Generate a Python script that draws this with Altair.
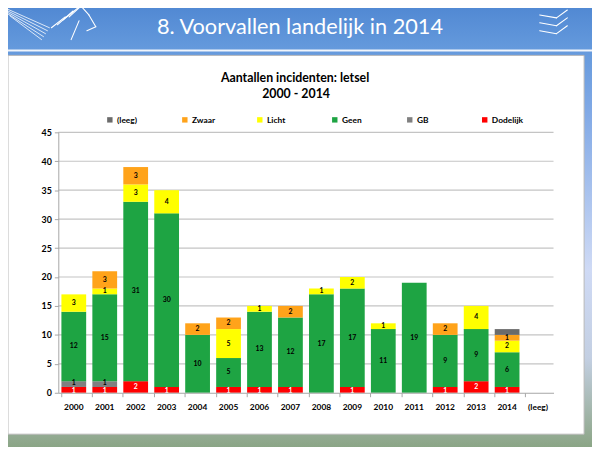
import pandas as pd
import altair as alt

# Data
years = ['2000', '2001', '2002', '2003', '2004', '2005', '2006', '2007',
         '2008', '2009', '2010', '2011', '2012', '2013', '2014', '(leeg)']
dodelijk = [1, 1, 2, 1, 0, 1, 1, 1, 0, 1, 0, 0, 1, 2, 1, 0]
gb = [1, 1, 0, 0, 0, 0, 0, 0, 0, 0, 0, 0, 0, 0, 0, 0]
geen = [12, 15, 31, 30, 10, 5, 13, 12, 17, 17, 11, 19, 9, 9, 6, 0]
licht = [3, 1, 3, 4, 0, 5, 1, 0, 1, 2, 1, 0, 0, 4, 2, 0]
zwaar = [0, 3, 3, 0, 2, 2, 0, 2, 0, 0, 0, 0, 2, 0, 1, 0]
leeg = [0, 0, 0, 0, 0, 0, 0, 0, 0, 0, 0, 0, 0, 0, 1, 0]

stack_order = ['Dodelijk', 'GB', 'Geen', 'Licht', 'Zwaar', '(leeg)']
series = [dodelijk, gb, geen, licht, zwaar, leeg]
legend_order = ['(leeg)', 'Zwaar', 'Licht', 'Geen', 'GB', 'Dodelijk']
legend_colors = ['#6b6b6b', '#ffa31a', '#ffff00', '#1ea443', '#808080', '#ff0000']
y_ticks = [0, 5, 10, 15, 20, 25, 30, 35, 40, 45]

rows = []
for rank, (cat, vals) in enumerate(zip(stack_order, series)):
    for yr, v in zip(years, vals):
        if v > 0:
            rows.append({'year': yr, 'cat': cat, 'count': v, 'rank': rank})
df = pd.DataFrame(rows)

FONT = 'Lato'
W, H = 502, 264          # plot area
OX, OY = 59, 131         # plot origin on the page
dummy = pd.DataFrame({'a': [0]})


def px(v):
    return alt.value(v - OX)


def py(v):
    return alt.value(v - OY)


def seg(x1, y1, x2, y2, w=1.1):
    return alt.Chart(dummy).mark_rule(color='white', strokeWidth=w, strokeCap='round').encode(
        x=px(x1), y=py(y1), x2=px(x2), y2=py(y2))


# Slide background
bg = alt.Chart(dummy).mark_rect(
    fill=alt.Gradient(
        gradient='linear', x1=0, x2=0, y1=0, y2=1,
        stops=[alt.GradientStop(color='#4f87d2', offset=0),
               alt.GradientStop(color='#6499dc', offset=0.1),
               alt.GradientStop(color='#82aae6', offset=0.25),
               alt.GradientStop(color='#cfdaf5', offset=0.6),
               alt.GradientStop(color='#c3cfe2', offset=0.8),
               alt.GradientStop(color='#a3b6ab', offset=0.92),
               alt.GradientStop(color='#8ba586', offset=1)]),
    strokeWidth=0
).encode(x=px(0), x2=px(600), y=py(0), y2=py(450))

header_line = alt.Chart(dummy).mark_rule(color='white', strokeWidth=2, opacity=0.9).encode(
    x=px(0), x2=px(600), y=py(48))

panel = alt.Chart(dummy).mark_rect(fill='white', stroke='#b8b8b8', strokeWidth=1).encode(
    x=px(8), x2=px(592), y=py(53), y2=py(437))

slide_title = alt.Chart(dummy).mark_text(
    text='8. Voorvallen landelijk in 2014', font=FONT, fontSize=22, color='white',
    align='center', baseline='middle'
).encode(x=px(304), y=py(24))

chart_title = alt.Chart(dummy).mark_text(
    text='Aantallen incidenten: letsel', font=FONT, fontSize=12.5, fontWeight='bold',
    color='black', align='center', baseline='middle'
).encode(x=px(299), y=py(76))

chart_sub = alt.Chart(dummy).mark_text(
    text='2000 - 2014', font=FONT, fontSize=12.5, fontWeight='bold',
    color='black', align='center', baseline='middle'
).encode(x=px(300), y=py(92))

# Logos (rough white line drawings)
logo = [
    seg(5, 5, 50, 25, 0.8), seg(6, 7, 48, 28, 0.8), seg(7, 9, 46, 31, 0.8),
    seg(8, 11, 44, 34, 0.8), seg(10, 13, 42, 37, 0.8),
    seg(52, 25, 66, 14), seg(58, 22, 74, 8), seg(64, 17, 80, 4), seg(70, 14, 82, 3),
    seg(82, 3, 90, 12), seg(90, 12, 97, 24), seg(97, 24, 88, 28),
    seg(80, 18, 72, 37),
    seg(547, 12, 564, 15), seg(564, 15, 575, 7),
    seg(547, 20, 564, 23), seg(564, 23, 575, 15),
    seg(547, 28, 564, 31), seg(564, 31, 575, 23),
]

y_scale = alt.Scale(domain=[0, 45], nice=False)
y_axis = alt.Axis(title=None, values=y_ticks, grid=False, tickSize=4, labelOverlap=False,
                  tickColor='#a6a6a6', domainColor='#a6a6a6',
                  labelFont=FONT, labelFontSize=9, labelFontWeight='bold',
                  labelColor='black', labelPadding=3, zindex=1)

x_enc = alt.X('year:N', sort=years,
              scale=alt.Scale(domain=years, paddingInner=0.2, paddingOuter=0.1),
              axis=alt.Axis(title=None, labelAngle=0, bandPosition=0, tickSize=4,
                            tickColor='#a6a6a6', domainColor='#a6a6a6',
                            labelFont=FONT, labelFontSize=8.5, labelFontWeight='bold',
                            labelColor='black', labelPadding=6, zindex=1))

grid = alt.Chart(pd.DataFrame({'v': y_ticks[1:]})).mark_rule(
    color='#c4c4c4', strokeWidth=1.2
).encode(y=alt.Y('v:Q', scale=y_scale, axis=y_axis),
         x=alt.value(0), x2=alt.value(W))

bars = alt.Chart(df).mark_bar().encode(
    x=x_enc,
    y=alt.Y('count:Q', stack='zero', scale=y_scale, axis=y_axis),
    color=alt.Color('cat:N', scale=alt.Scale(domain=legend_order, range=legend_colors),
                    legend=alt.Legend(title=None, orient='none', legendX=48, legendY=-17,
                                      direction='horizontal', columns=6, gridAlign='all',
                                      columnPadding=32, symbolType='square', symbolSize=30,
                                      symbolStrokeWidth=0, labelFont=FONT, labelFontSize=8.5,
                                      labelFontWeight='bold', labelColor='black',
                                      labelOffset=3, padding=0, zindex=1)),
    order=alt.Order('rank:Q')
)

# segment labels centred in each segment; the two thin bottom ones nudged apart
labels = alt.Chart(df).transform_filter(
    "datum.cat != '(leeg)'"
).transform_stack(
    stack='count', groupby=['year'], as_=['y0', 'y1'],
    sort=[alt.SortField('rank', order='ascending')]
).transform_calculate(
    mid="(datum.y0 + datum.y1) / 2 + (datum.cat == 'GB' ? 0.2 : 0)"
        " - (datum.cat == 'Dodelijk' && datum.count == 1 ? 0.15 : 0)"
).mark_text(font=FONT, fontSize=7, fontWeight='bold', baseline='middle').encode(
    x=alt.X('year:N', sort=years),
    y=alt.Y('mid:Q', scale=y_scale, axis=y_axis),
    text='count:Q',
    color=alt.condition("datum.cat == 'Dodelijk'", alt.value('white'), alt.value('black'))
)

chart = alt.layer(
    bg, header_line, panel, slide_title, *logo, chart_title, chart_sub, grid, bars, labels
).properties(
    width=W, height=H,
    autosize=alt.AutoSizeParams(type='none'),
    padding={'left': OX - 8, 'top': OY - 8, 'right': 600 - 8 - OX - W + 8,
             'bottom': 450 - 8 - OY - H + 8}
).configure_view(strokeWidth=0)

chart.save("out.html", embed_options={"renderer": "svg", "actions": False})
